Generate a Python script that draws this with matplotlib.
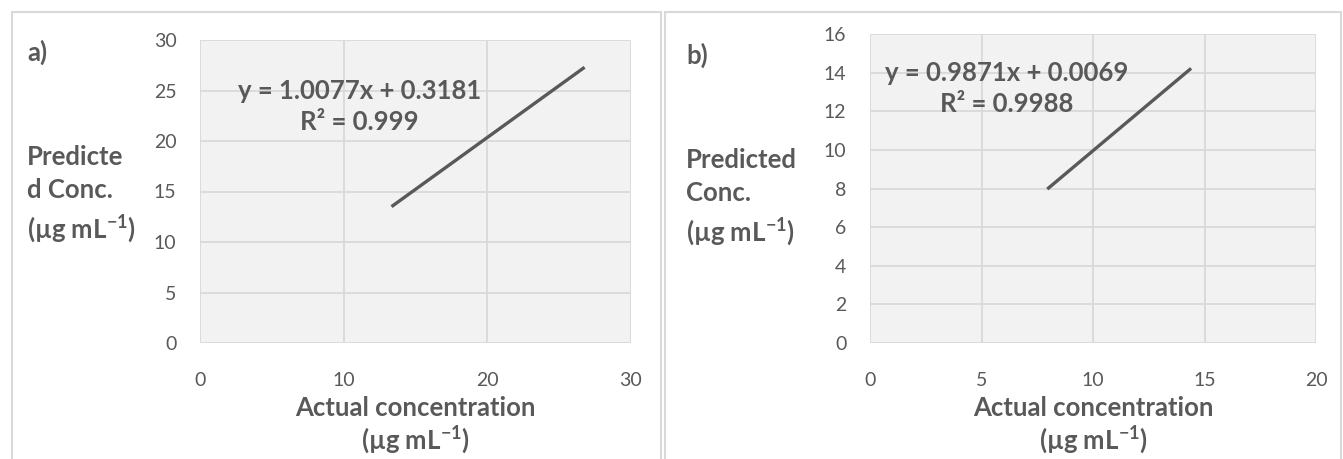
import matplotlib.pyplot as plt
from matplotlib.patches import Rectangle

plt.rcParams['font.family'] = ['Lato', 'DejaVu Sans']
plt.rcParams['mathtext.fontset'] = 'custom'
plt.rcParams['mathtext.rm'] = 'Lato:bold'
plt.rcParams['mathtext.default'] = 'rm'

# panel a data
a_actual = [13.33, 26.77]
a_pred = [13.5, 27.3]
a_xticks = [0, 10, 20, 30]
a_yticks = [0, 5, 10, 15, 20, 25, 30]
a_eq = "y = 1.0077x + 0.3181\nR² = 0.999"

# panel b data
b_actual = [7.95, 14.4]
b_pred = [7.97, 14.22]
b_xticks = [0, 5, 10, 15, 20]
b_yticks = [0, 2, 4, 6, 8, 10, 12, 14, 16]
b_eq = "y = 0.9871x + 0.0069\nR² = 0.9988"

W, H = 1343, 459
grey = '#595959'
fig = plt.figure(figsize=(W / 100, H / 100), dpi=100)

def box(x0, y0, x1, y1):
    return [x0 / W, 1 - y1 / H, (x1 - x0) / W, (y1 - y0) / H]

# outer chart frames
for x0, x1 in [(12, 661), (665, 1341)]:
    fig.patches.append(Rectangle((x0 / W, -0.1), (x1 - x0) / W, 1.1 - 12 / H,
                                 transform=fig.transFigure, fill=False,
                                 edgecolor='#D9D9D9', linewidth=1.5))


def panel(rect, xs, ys, xt, yt, eq, eqpos, tag, tagpos, ylab, ylabx, ylaby):
    ax = fig.add_axes(box(*rect))
    ax.set_facecolor('#F2F2F2')
    ax.plot(xs, ys, color=grey, linewidth=2.4, solid_capstyle='butt')
    ax.set_xlim(xt[0], xt[-1])
    ax.set_ylim(yt[0], yt[-1])
    ax.set_xticks(xt)
    ax.set_yticks(yt)
    ax.grid(True, color='#D9D9D9', linewidth=1.3)
    ax.set_axisbelow(True)
    for s in ax.spines.values():
        s.set_visible(False)
    ax.tick_params(length=0, labelsize=14, labelcolor=grey, pad=17)
    ax.tick_params(axis='x', pad=21)
    ax.text(eqpos[0], eqpos[1], eq, ha='center', va='top', fontsize=18.5,
            fontweight='bold', color=grey, linespacing=1.35)
    ax.set_xlabel("Actual concentration\n(µg mL$^{-1}$)", fontsize=18.5,
                  fontweight='bold', color=grey, labelpad=5, linespacing=1.15)
    fig.text(tagpos[0] / W, 1 - tagpos[1] / H, tag, fontsize=18.5,
             fontweight='bold', color=grey, va='center')
    fig.text(ylabx / W, 1 - ylaby / H, ylab, fontsize=18.5, fontweight='bold',
             color=grey, va='top', linespacing=1.45)
    return ax


panel((200, 40, 631, 343), a_actual, a_pred, a_xticks, a_yticks, a_eq,
      (11.1, 26.1), 'a)', (27, 52),
      "Predicte\nd Conc.\n(µg mL$^{-1}$)", 27, 145)
panel((870, 34, 1316, 343), b_actual, b_pred, b_xticks, b_yticks, b_eq,
      (6.14, 14.6), 'b)', (686, 55),
      "Predicted\nConc.\n(µg mL$^{-1}$)", 686, 148)

fig.savefig('out.png', dpi=100)
